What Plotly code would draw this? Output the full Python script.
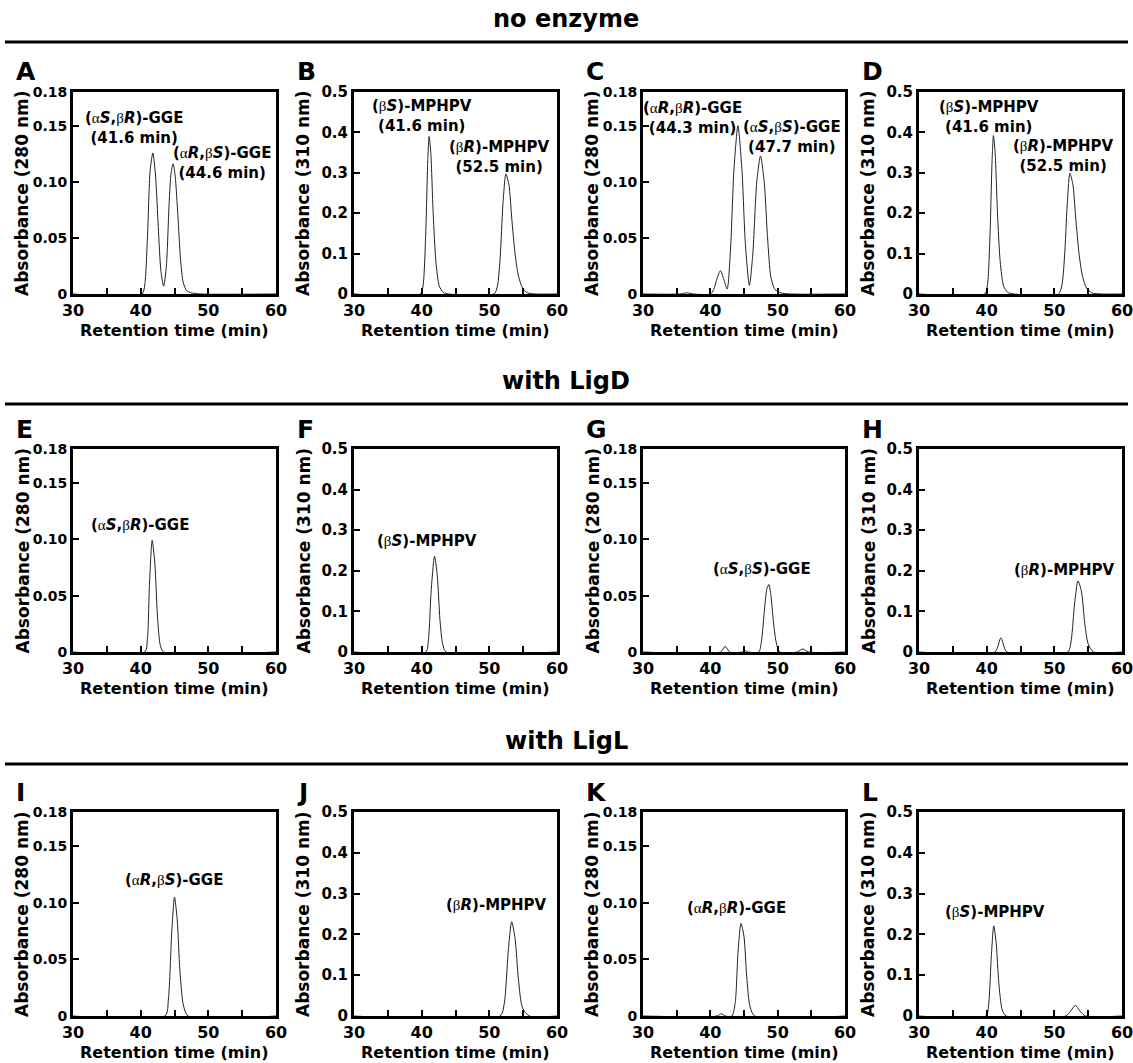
import plotly.graph_objects as go

# ---------------- data ----------------
time_A = [30, 40.2, 40.6, 41.0, 41.4, 41.8, 42.2, 42.6, 43.0, 43.4, 43.8, 44.2, 44.5, 44.8, 45.1, 45.5, 45.9, 46.3, 46.8, 47.5, 49, 60]
abs_A = [0, 0, 0.008, 0.05, 0.11, 0.1256, 0.105, 0.06, 0.02, 0.007, 0.025, 0.08, 0.108, 0.116, 0.105, 0.07, 0.03, 0.01, 0.003, 0.001, 0, 0]

time_B = [30, 39.8, 40.2, 40.6, 40.9, 41.1, 41.35, 41.7, 42.1, 42.6, 43.2, 44, 50.7, 51.2, 51.6, 52.0, 52.45, 52.9, 53.3, 53.8, 54.3, 54.9, 55.6, 57, 60]
abs_B = [0, 0, 0.02, 0.15, 0.33, 0.39, 0.35, 0.2, 0.08, 0.02, 0.004, 0, 0, 0.02, 0.09, 0.22, 0.297, 0.27, 0.19, 0.1, 0.045, 0.015, 0.003, 0, 0]

time_C = [30, 35.5, 36.5, 37.5, 40.0, 40.5, 41.0, 41.5, 42.0, 42.5, 43.0, 43.5, 44.1, 44.7, 45.2, 45.8, 46.3, 46.9, 47.45, 48.0, 48.5, 49.0, 49.6, 50.5, 52, 60]
abs_C = [0, 0, 0.001, 0, 0, 0.004, 0.014, 0.0208, 0.013, 0.0045, 0.04, 0.11, 0.150, 0.11, 0.045, 0.0077, 0.035, 0.1, 0.123, 0.1, 0.05, 0.015, 0.004, 0.001, 0, 0]

time_D = [30, 39.7, 40.1, 40.5, 40.8, 41.0, 41.25, 41.6, 42.0, 42.5, 43.1, 44, 50.6, 51.1, 51.5, 51.9, 52.3, 52.75, 53.15, 53.65, 54.15, 54.75, 55.5, 57, 60]
abs_D = [0, 0, 0.02, 0.15, 0.33, 0.392, 0.35, 0.2, 0.08, 0.02, 0.004, 0, 0, 0.02, 0.09, 0.22, 0.299, 0.27, 0.19, 0.1, 0.045, 0.015, 0.003, 0, 0]

time_E = [30, 40.6, 41.0, 41.3, 41.7, 42.1, 42.5, 42.9, 43.4, 60]
abs_E = [0, 0, 0.012, 0.06, 0.099, 0.078, 0.03, 0.006, 0, 0]

time_F = [30, 40.6, 41.0, 41.4, 41.9, 42.3, 42.7, 43.1, 43.6, 60]
abs_F = [0, 0, 0.03, 0.15, 0.236, 0.19, 0.08, 0.02, 0, 0]

time_G = [30, 41.5, 42.2, 42.9, 44.8, 45.2, 45.6, 47.2, 47.6, 48.0, 48.4, 48.7, 49.0, 49.4, 49.8, 50.3, 52.9, 53.7, 54.6, 60]
abs_G = [0, 0, 0.005, 0, 0, 0.0012, 0, 0, 0.01, 0.035, 0.056, 0.0598, 0.05, 0.025, 0.008, 0, 0, 0.0027, 0, 0]

time_H = [30, 41.2, 42.1, 43.0, 52.0, 52.5, 53.0, 53.5, 54.0, 54.5, 55.0, 55.8, 60]
abs_H = [0, 0, 0.035, 0, 0, 0.03, 0.12, 0.175, 0.15, 0.07, 0.02, 0, 0]

time_I = [30, 43.6, 44.1, 44.6, 45.0, 45.4, 45.8, 46.3, 47.0, 60]
abs_I = [0, 0, 0.015, 0.075, 0.1048, 0.085, 0.04, 0.01, 0, 0]

time_J = [30, 51.6, 52.2, 52.8, 53.3, 53.8, 54.3, 54.9, 55.9, 60]
abs_J = [0, 0, 0.03, 0.16, 0.231, 0.19, 0.09, 0.02, 0, 0]

time_K = [30, 41.0, 41.6, 42.2, 43.2, 43.7, 44.1, 44.55, 45.0, 45.4, 45.9, 46.6, 60]
abs_K = [0, 0, 0.002, 0, 0, 0.012, 0.055, 0.0817, 0.07, 0.035, 0.008, 0, 0]

time_L = [30, 39.9, 40.3, 40.7, 41.05, 41.4, 41.8, 42.3, 42.9, 51.7, 52.4, 53.1, 53.8, 54.6, 60]
abs_L = [0, 0, 0.03, 0.15, 0.221, 0.18, 0.08, 0.015, 0, 0, 0.012, 0.026, 0.012, 0, 0]

panel_letters = ["A", "B", "C", "D", "E", "F", "G", "H", "I", "J", "K", "L"]
panel_times = [time_A, time_B, time_C, time_D, time_E, time_F, time_G, time_H, time_I, time_J, time_K, time_L]
panel_abs = [abs_A, abs_B, abs_C, abs_D, abs_E, abs_F, abs_G, abs_H, abs_I, abs_J, abs_K, abs_L]
panel_wavelength = ["280", "310", "280", "310"] * 3
section_titles = ["no enzyme", "with LigD", "with LigL"]

x_tickvals = [30, 35, 40, 45, 50, 55, 60]
x_ticktext = ["30", "", "40", "", "50", "", "60"]
y280_tickvals = [0, 0.05, 0.10, 0.15, 0.18]
y280_ticktext = ["0", "0.05", "0.10", "0.15", "0.18"]
y310_tickvals = [0, 0.1, 0.2, 0.3, 0.4, 0.5]
y310_ticktext = ["0", "0.1", "0.2", "0.3", "0.4", "0.5"]

A_ = "<span style=\"font-family:'Liberation Serif';font-weight:normal\">α</span>"
B_ = "<span style=\"font-family:'Liberation Serif';font-weight:normal\">β</span>"

peak_labels = [
    (0, 38.95, 0.1475, f"({A_}<i>S</i>,{B_}<i>R</i>)-GGE<br>(41.6 min)"),
    (0, 52.0, 0.1165, f"({A_}<i>R</i>,{B_}<i>S</i>)-GGE<br>(44.6 min)"),
    (1, 40.0, 0.44, f"({B_}<i>S</i>)-MPHPV<br>(41.6 min)"),
    (1, 51.5, 0.339, f"({B_}<i>R</i>)-MPHPV<br>(52.5 min)"),
    (2, 37.3, 0.1565, f"({A_}<i>R</i>,{B_}<i>R</i>)-GGE<br>(44.3 min)"),
    (2, 52.1, 0.140, f"({A_}<i>S</i>,{B_}<i>S</i>)-GGE<br>(47.7 min)"),
    (3, 40.3, 0.4385, f"({B_}<i>S</i>)-MPHPV<br>(41.6 min)"),
    (3, 51.4, 0.342, f"({B_}<i>R</i>)-MPHPV<br>(52.5 min)"),
    (4, 39.9, 0.1126, f"({A_}<i>S</i>,{B_}<i>R</i>)-GGE"),
    (5, 40.75, 0.2726, f"({B_}<i>S</i>)-MPHPV"),
    (6, 47.6, 0.0739, f"({A_}<i>S</i>,{B_}<i>S</i>)-GGE"),
    (7, 51.5, 0.2017, f"({B_}<i>R</i>)-MPHPV"),
    (8, 44.9, 0.120, f"({A_}<i>R</i>,{B_}<i>S</i>)-GGE"),
    (9, 51.1, 0.272, f"({B_}<i>R</i>)-MPHPV"),
    (10, 43.9, 0.095, f"({A_}<i>R</i>,{B_}<i>R</i>)-GGE"),
    (11, 41.2, 0.255, f"({B_}<i>S</i>)-MPHPV"),
]

W, H = 1133, 1063
cols = [(73, 276), (354, 557), (643, 845), (919, 1122)]
rows = [(92, 294), (449, 652), (812, 1016)]
header_lines_y = [42, 404, 764]
FONT = "DejaVu Sans"

fig = go.Figure()
annotations = []
shapes = []

for i in range(12):
    r, c = divmod(i, 4)
    n = i + 1
    xa = "x" if n == 1 else f"x{n}"
    ya = "y" if n == 1 else f"y{n}"
    xl, xr = cols[c]
    yt, yb = rows[r]
    fig.add_trace(go.Scatter(
        x=panel_times[i], y=panel_abs[i], mode="lines",
        line=dict(color="#222222", width=1, shape="spline", smoothing=0.7),
        xaxis=xa, yaxis=ya, showlegend=False, hoverinfo="x+y"))
    is280 = panel_wavelength[i] == "280"
    axis_common = dict(
        showline=True, mirror=True, linecolor="black", linewidth=3,
        ticks="inside", ticklen=6, tickwidth=2, tickcolor="black",
        showgrid=False, zeroline=False, automargin=False,
        ticklabeloverflow="allow",
        tickfont=dict(family=FONT, size=16, color="black", weight="bold"),
    )
    fig.layout[("xaxis" if n == 1 else f"xaxis{n}")] = dict(
        axis_common, domain=[xl / W, xr / W], range=[30, 60],
        tickmode="array", tickvals=x_tickvals, ticktext=x_ticktext,
        anchor=ya)
    fig.layout[("yaxis" if n == 1 else f"yaxis{n}")] = dict(
        axis_common, domain=[(H - yb) / H, (H - yt) / H],
        range=[0, 0.18] if is280 else [0, 0.5],
        tickmode="array",
        tickvals=y280_tickvals if is280 else y310_tickvals,
        ticktext=y280_ticktext if is280 else y310_ticktext,
        anchor=xa)
    fig.layout[("yaxis" if n == 1 else f"yaxis{n}")].tickfont.size = 14 if is280 else 15

    annotations.append(dict(
        xref="paper", yref="paper", x=(xl - 51) / W, y=(H - (yt + yb) / 2) / H,
        text=f"<b>Absorbance ({panel_wavelength[i]} nm)</b>", textangle=-90,
        showarrow=False, xanchor="center", yanchor="middle",
        font=dict(family=FONT, size=17, color="black")))
    annotations.append(dict(
        xref="paper", yref="paper", x=((xl + xr) / 2) / W, y=(H - (yb + 36)) / H,
        text="<b>Retention time (min)</b>",
        showarrow=False, xanchor="center", yanchor="middle",
        font=dict(family=FONT, size=16, color="black")))
    annotations.append(dict(
        xref="paper", yref="paper", x=(xl - 59) / W, y=(H - (yt - 20)) / H,
        text=f"<b>{panel_letters[i]}</b>",
        showarrow=False, xanchor="left", yanchor="middle",
        font=dict(family=FONT, size=25, color="black")))

for (p, x, y, t) in peak_labels:
    n = p + 1
    annotations.append(dict(
        xref="x" if n == 1 else f"x{n}", yref="y" if n == 1 else f"y{n}",
        x=x, y=y, text=f"<b>{t}</b>", showarrow=False,
        xanchor="center", yanchor="middle",
        font=dict(family=FONT, size=15, color="black")))

for k, title in enumerate(section_titles):
    ly = header_lines_y[k]
    annotations.append(dict(
        xref="paper", yref="paper", x=566 / W, y=(H - (ly - 23)) / H,
        text=f"<b>{title}</b>", showarrow=False,
        xanchor="center", yanchor="middle",
        font=dict(family=FONT, size=24, color="black")))
    shapes.append(dict(
        type="line", xref="paper", yref="paper",
        x0=5 / W, x1=1128 / W, y0=(H - ly) / H, y1=(H - ly) / H,
        line=dict(color="black", width=3)))

fig.update_layout(
    width=W, height=H, autosize=False,
    margin=dict(l=0, r=0, t=0, b=0, pad=0, autoexpand=False),
    paper_bgcolor="white", plot_bgcolor="white",
    annotations=annotations, shapes=shapes,
    font=dict(family=FONT, color="black"),
)

fig.write_html(
    "out.html",
    config={"displayModeBar": False},
    post_script="document.body.style.margin='0';document.body.style.overflow='hidden';",
)
